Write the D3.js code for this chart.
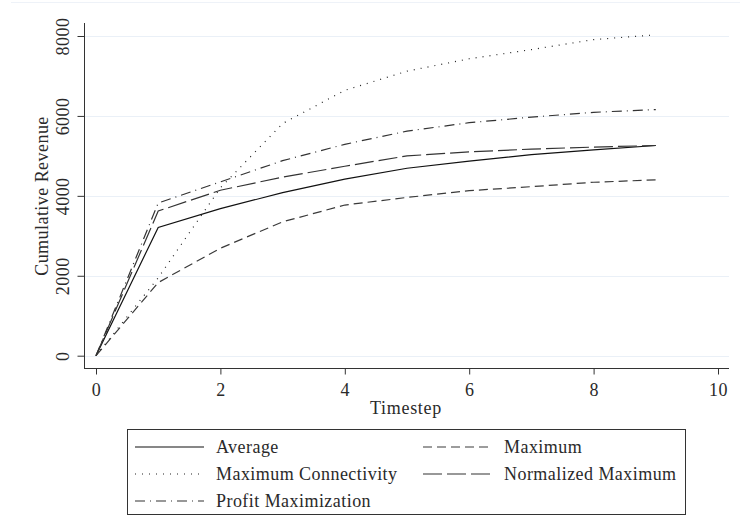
<!DOCTYPE html>
<html>
<head>
<meta charset="utf-8">
<script src="https://cdn.jsdelivr.net/npm/d3@7"></script>
<style>
  body { margin: 0; background: #fff; }
  svg text { font-family: "Liberation Serif", "DejaVu Serif", serif !important; fill: #2a2a2a; }
</style>
</head>
<body>
<div id="chart"></div>
<script>
// timesteps and cumulative revenue per strategy
var timesteps = [0, 1, 2, 3, 4, 5, 6, 7, 8, 9];
var average = [0, 3210, 3680, 4080, 4420, 4690, 4870, 5030, 5150, 5260];
var maximum = [0, 1830, 2690, 3350, 3770, 3960, 4130, 4230, 4340, 4400];
var maxConnectivity = [0, 1950, 4200, 5810, 6640, 7120, 7430, 7660, 7910, 8030];
var normalizedMax = [0, 3620, 4140, 4470, 4740, 5000, 5100, 5170, 5220, 5260];
var profitMax = [0, 3820, 4350, 4880, 5290, 5620, 5830, 5970, 6090, 6160];
var xTicks = [0, 2, 4, 6, 8, 10];
var yTicks = [0, 2000, 4000, 6000, 8000];

var series = [
  { name: 'Average', values: average, dash: null, color: '#111' },
  { name: 'Maximum', values: maximum, dash: '9,5', color: '#3a3a3a' },
  { name: 'Maximum Connectivity', values: maxConnectivity, dash: '1,6', color: '#222' },
  { name: 'Normalized Maximum', values: normalizedMax, dash: '19,5', color: '#333' },
  { name: 'Profit Maximization', values: profitMax, dash: '10,5,1,5', color: '#333' }
];

var width = 740, height = 518;
var fontSize = '18px';
var spacing = '0.45px';

var svg = d3.select('#chart').append('svg')
            .attr('width', width)
            .attr('height', height);

var x = d3.scaleLinear().domain([0, 10]).range([96, 718]);
var y = d3.scaleLinear().domain([0, 8000]).range([355.7, 36]);

// faint outer frame line at top
svg.append('line')
   .attr('x1', 11).attr('x2', width)
   .attr('y1', 2.5).attr('y2', 2.5)
   .attr('stroke', '#eef2f8');

// gridlines
svg.selectAll('line.grid')
   .data(yTicks)
   .enter()
   .append('line')
     .attr('class', 'grid')
     .attr('x1', 85).attr('x2', 729)
     .attr('y1', function(d) { return Math.round(y(d)) + 0.5; })
     .attr('y2', function(d) { return Math.round(y(d)) + 0.5; })
     .attr('stroke', '#eaf0f7')
     .attr('stroke-width', 1);

// y axis
var yAxis = svg.append('g')
   .attr('transform', 'translate(84.5,0)')
   .call(d3.axisLeft(y).tickValues(yTicks).tickSize(7).tickFormat(d3.format('d')));
yAxis.attr('font-family', null);
yAxis.select('.domain').attr('d', 'M0,23V368.5').attr('stroke', '#333');
yAxis.selectAll('.tick line').attr('stroke', '#333');
yAxis.selectAll('.tick text')
     .attr('x', 0).attr('y', 0)
     .attr('transform', 'translate(-22,0) rotate(-90)')
     .attr('text-anchor', 'middle')
     .attr('dy', '0.35em')
     .style('font-size', fontSize)
     .style('letter-spacing', spacing);

// x axis
var xAxis = svg.append('g')
   .attr('transform', 'translate(0,368.5)')
   .call(d3.axisBottom(x).tickValues(xTicks).tickSize(6).tickFormat(d3.format('d')));
xAxis.attr('font-family', null);
xAxis.select('.domain').attr('d', 'M84,0H729').attr('stroke', '#333');
xAxis.selectAll('.tick line').attr('stroke', '#333');
xAxis.selectAll('.tick text')
     .attr('y', 15)
     .style('font-size', fontSize)
     .style('letter-spacing', spacing);

// axis titles
svg.append('text')
   .attr('x', 406).attr('y', 414)
   .attr('text-anchor', 'middle')
   .style('font-size', fontSize)
   .style('letter-spacing', '0.7px')
   .text('Timestep');

svg.append('text')
   .attr('transform', 'translate(42,196) rotate(-90)')
   .attr('text-anchor', 'middle')
   .attr('dy', '0.35em')
   .style('font-size', fontSize)
   .style('letter-spacing', spacing)
   .text('Cumulative Revenue');

// lines
var line = d3.line()
   .x(function(d, i) { return x(timesteps[i]); })
   .y(function(d) { return y(d); });

svg.selectAll('path.series')
   .data(series)
   .enter()
   .append('path')
     .attr('class', 'series')
     .attr('d', function(d) { return line(d.values); })
     .attr('fill', 'none')
     .attr('stroke', function(d) { return d.color; })
     .attr('stroke-width', 1.2)
     .attr('stroke-dasharray', function(d) { return d.dash; });

// legend
var legend = svg.append('g');
legend.append('rect')
   .attr('x', 127.5).attr('y', 429.5)
   .attr('width', 558).attr('height', 85)
   .attr('fill', '#fff')
   .attr('stroke', '#333');

var legendPos = [
  { x: 135, y: 447 }, { x: 423, y: 447 },
  { x: 135, y: 474 }, { x: 423, y: 474 },
  { x: 135, y: 501 }
];

var items = legend.selectAll('g.item')
   .data(series)
   .enter()
   .append('g')
     .attr('class', 'item')
     .attr('transform', function(d, i) { return 'translate(' + legendPos[i].x + ',' + legendPos[i].y + ')'; });

items.append('line')
   .attr('x1', 0).attr('x2', 69)
   .attr('y1', 0).attr('y2', 0)
   .attr('stroke', function(d) { return d.color; })
   .attr('stroke-width', 1.2)
   .attr('stroke-dasharray', function(d) { return d.dash; });

items.append('text')
   .attr('x', 81).attr('y', 0)
   .attr('dy', '0.35em')
   .style('font-size', fontSize)
   .style('letter-spacing', spacing)
   .text(function(d) { return d.name; });
</script>
</body>
</html>
